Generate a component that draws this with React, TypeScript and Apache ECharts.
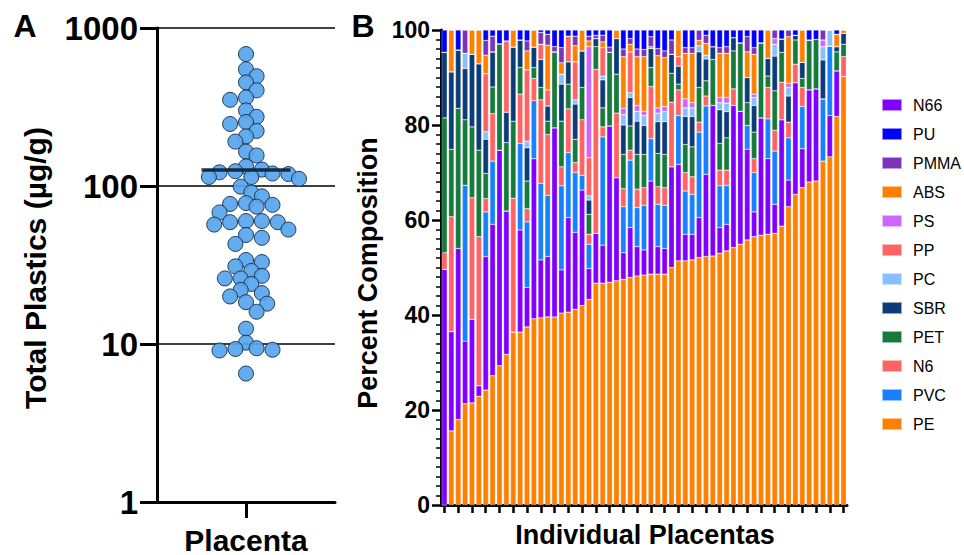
import React, { useEffect, useRef } from "react";
import * as echarts from "echarts";

// ---------- Panel A data ----------
const TOTAL_PLASTICS = [
  684, 548, 495, 453, 403, 363, 351, 301, 274, 254, 247, 223, 206, 191, 165, 156,
  133, 127, 124, 122, 120, 119, 114, 114, 111, 99, 91, 86, 78, 77, 76, 74, 68,
  60, 60, 59, 59, 57, 53, 49, 47, 43, 34, 33, 31, 29, 27, 26, 26, 24, 22, 21, 20,
  18.4, 18, 16, 12.5, 10.2, 9.4, 9.3, 9.2, 9.1, 6.5,
];
const GROUP_LABEL = "Placenta";

// ---------- Panel B data ----------
const STACK_ORDER = ["PE", "N66", "PVC", "N6", "PET", "SBR", "PC", "PP", "PS", "ABS", "PMMA", "PU"];
const LEGEND_ORDER = ["N66", "PU", "PMMA", "ABS", "PS", "PP", "PC", "SBR", "PET", "N6", "PVC", "PE"];
const COLORS: Record<string, string> = {
  N66: "#8000ff",
  PU: "#0000ff",
  PMMA: "#7b33b8",
  ABS: "#ff8000",
  PS: "#cc66ff",
  PP: "#ff6262",
  PC: "#88bfff",
  SBR: "#0b3c78",
  PET: "#167a3c",
  N6: "#ff6262",
  PVC: "#1780ff",
  PE: "#ff8000",
};

const PE = [0, 15.6, 18.0, 21.3, 21.5, 22.9, 24.2, 27.2, 29.3, 31.7, 36.4, 36.4, 37.5, 39.2, 39.4, 39.6, 39.6, 40.4, 40.6, 41.2, 42.0, 43.3, 46.7, 46.7, 46.9, 47.2, 47.5, 47.9, 48.2, 48.4, 48.6, 48.6, 48.6, 50.0, 51.4, 51.4, 51.6, 52.1, 52.3, 52.4, 53.0, 53.5, 54.2, 54.9, 55.8, 56.5, 56.8, 57.0, 57.2, 58.7, 62.8, 65.4, 66.8, 68.0, 68.2, 72.4, 73.3, 81.8, 90.2];
const N66 = [49.6, 20.9, 36.0, 13.2, 17.6, 2.2, 28.1, 31.9, 45.4, 30.2, 0, 21.5, 8.3, 33.7, 12.2, 12.7, 39.8, 9.1, 19.9, 16.2, 24.3, 6.5, 10.5, 8.0, 32.9, 21.7, 5.6, 10.5, 6.2, 5.3, 19.6, 5.8, 5.4, 21.2, 20.3, 5.6, 5.4, 8.4, 17.3, 31.7, 5.4, 5.6, 29.9, 28.0, 19.1, 5.2, 24.7, 15.9, 6.1, 22.4, 5.6, 23.5, 8.2, 19.4, 19.4, 0, 8.7, 9.6, 0];
const PVC = [0, 0, 0, 32.8, 0, 0, 9.4, 13.3, 0, 0, 0, 18.2, 13.8, 12.2, 16.1, 12.9, 0, 17.7, 13.7, 12.6, 3.1, 5.1, 0, 22.8, 0, 0, 9.7, 14.2, 8.2, 9.4, 8.9, 8.9, 9.1, 0, 10.3, 9.1, 8.4, 18.0, 14.4, 0, 8.8, 8.2, 0, 0, 5.0, 8.3, 0, 8.4, 11.2, 0, 8.9, 0, 8.9, 0, 0, 13.1, 14.6, 0, 0];
const N6 = [3.5, 24.2, 0, 0, 25.6, 31.4, 2.8, 10.0, 0, 0, 28.2, 10.4, 2.8, 4.7, 17.6, 12.8, 0, 4.0, 9.2, 2.1, 11.7, 2.1, 34.5, 2.1, 0, 13.6, 3.8, 2.1, 3.9, 3.7, 11.0, 3.7, 3.7, 13.6, 5.4, 3.9, 3.7, 2.1, 2.1, 0, 3.3, 3.2, 3.5, 0, 0, 2.9, 0, 6.6, 4.4, 7.9, 3.3, 3.9, 4.0, 0, 0, 0, 0, 0, 4.2];
const PET = [28.4, 14.2, 29.5, 13.8, 14.9, 18.2, 5.3, 5.6, 22.4, 14.4, 16.2, 5.6, 5.8, 2.3, 2.6, 2.8, 16.0, 9.6, 5.2, 4.9, 6.8, 4.2, 4.8, 4.0, 15.5, 8.2, 7.2, 5.1, 7.3, 7.0, 4.0, 7.0, 7.0, 6.1, 1.2, 5.9, 6.3, 7.3, 3.2, 9.7, 5.6, 6.8, 8.0, 14.4, 4.8, 5.6, 15.8, 2.4, 8.3, 6.3, 0, 5.1, 1.9, 10.5, 10.4, 0, 0, 4.0, 2.6];
const SBR = [13.8, 16.3, 12.3, 10.8, 15.3, 18.2, 7.2, 7.4, 0, 6.4, 15.6, 5.8, 7.0, 4.3, 5.9, 3.2, 0, 7.8, 4.7, 7.4, 7.7, 3.0, 1.7, 5.9, 0, 7.5, 6.2, 6.0, 7.0, 6.1, 4.0, 6.7, 6.9, 4.0, 3.8, 5.9, 6.4, 7.5, 4.6, 2.7, 7.1, 5.5, 2.8, 0, 5.3, 5.6, 0, 3.7, 7.3, 2.8, 5.5, 1.0, 3.4, 0, 0, 8.2, 0, 1.1, 2.3];
const PC = [0, 0, 0, 3.2, 0, 0, 1.6, 0, 0, 0, 0, 0, 1.4, 0, 0, 0, 0, 2.1, 0, 0.9, 0, 0.9, 0, 0.8, 0, 0, 2.2, 1.0, 2.1, 2.1, 0, 1.8, 2.1, 0, 0, 1.8, 1.8, 1.3, 0.8, 0, 1.5, 1.8, 0, 0, 0, 1.7, 0, 0, 2.5, 0, 1.8, 0, 0, 0, 0, 2.8, 3.4, 0, 0];
const PP = [0, 0, 0, 0, 0, 0, 12.2, 0, 0, 15.0, 0, 0, 15.0, 0, 3.2, 3.4, 0, 0, 5.4, 8.0, 0, 8.0, 0, 6.0, 0, 0, 0, 8.6, 0, 0, 0, 0, 0, 0, 2.0, 0, 0, 0, 0, 0, 0, 0, 0, 0, 0, 0, 0, 0, 0, 0, 0, 0, 0, 0, 0, 0, 0, 0, 0];
const PS = [0, 0, 0, 0, 0, 0, 0, 0, 0, 0, 0, 0, 0, 0, 0, 0, 0, 0, 0, 0, 0, 23.4, 0, 0, 0, 0, 1.3, 0, 1.2, 0.9, 0, 1.1, 1.1, 0, 0, 1.9, 1.1, 0, 0, 0, 1.1, 1.2, 0, 0, 0, 0.7, 0, 0, 1.2, 0, 0.9, 0, 0, 0, 0, 1.4, 0, 0, 0];
const ABS = [0, 8.8, 0, 0, 5.1, 7.1, 3.9, 0, 0, 0, 3.6, 0, 4.0, 3.6, 0, 9.4, 0, 2.4, 0, 3.4, 4.4, 1.2, 0, 1.2, 0, 1.8, 10.9, 1.6, 10.3, 11.5, 0.4, 11.0, 10.3, 0, 5.6, 9.6, 10.4, 1.1, 2.5, 0, 9.3, 9.3, 0, 0, 5.4, 8.4, 0, 6.0, 0, 0, 9.8, 0, 6.8, 0, 0, 0, 0, 2.6, 0.7];
const PMMA = [0, 0, 0, 4.9, 0, 0, 3.1, 3.3, 0, 0, 0, 0, 2.1, 0, 2.5, 2.3, 1.1, 3.2, 0, 2.0, 0, 1.0, 0.7, 1.4, 1.1, 0, 1.6, 1.2, 1.6, 1.5, 2.1, 1.5, 1.4, 3.0, 0, 1.2, 1.2, 2.2, 1.7, 0, 1.2, 1.4, 0, 0, 3.2, 1.4, 0, 0, 1.8, 0, 1.4, 0, 0, 0, 0, 2.1, 0, 0, 0];
const PU = [4.7, 0, 4.2, 0, 0, 0, 2.2, 1.3, 2.9, 2.3, 0, 2.1, 2.3, 0, 0.5, 0.9, 3.5, 3.7, 1.3, 1.3, 0, 1.3, 1.1, 1.1, 3.6, 0, 4.0, 1.8, 4.0, 4.1, 1.4, 3.9, 4.4, 2.1, 0, 3.7, 3.7, 0, 1.1, 3.5, 3.7, 3.5, 1.6, 2.7, 1.4, 3.7, 2.7, 0, 0, 1.9, 0, 1.1, 0, 2.1, 2.0, 0, 0, 0.9, 0];

const SERIES_VALUES: Record<string, number[]> = { PE, N66, PVC, N6, PET, SBR, PC, PP, PS, ABS, PMMA, PU };
const SAMPLES = PE.map((_, i) => String(i + 1));

const FONT = "'Liberation Sans', Arial, Helvetica, sans-serif";

// layout of panel A grid (used for beeswarm spacing)
const A_LEFT = 157, A_TOP = 28, A_W = 178, A_H = 476;
const B_LEFT = 441, B_TOP = 30, B_W = 406, B_H = 475;

function beeswarm(values: number[]): number[][] {
  const pxPerDecade = A_H / 3;
  const pxPerUnit = A_W / 2;
  const step = 5.3;
  const minDist = 11.2;
  const order = values.map((v, i) => i).sort((a, b) => values[b] - values[a]);
  const placed: { x: number; y: number }[] = [];
  const out: number[][] = new Array(values.length);
  for (const i of order) {
    const y = Math.log10(values[i]) * pxPerDecade;
    let chosen = 0;
    for (let k = 0; k < 40; k++) {
      const cands = k === 0 ? [0] : [k * step, -k * step];
      let ok = false;
      for (const x of cands) {
        if (placed.every((p) => Math.hypot(p.x - x, p.y - y) >= minDist)) {
          chosen = x;
          ok = true;
          break;
        }
      }
      if (ok) break;
    }
    placed.push({ x: chosen, y });
    out[i] = [chosen / pxPerUnit, values[i]];
  }
  return out;
}

export default function App() {
  const ref = useRef<HTMLDivElement>(null);
  useEffect(() => {
    if (!ref.current) return;
    const chart = echarts.init(ref.current, undefined, { renderer: "svg" });
    const mean = TOTAL_PLASTICS.reduce((s, v) => s + v, 0) / TOTAL_PLASTICS.length;
    const black = "#000";

    const barSeries = STACK_ORDER.map((name) => ({
      name,
      type: "bar",
      stack: "total",
      xAxisIndex: 1,
      yAxisIndex: 1,
      barCategoryGap: "20%",
      data: SERIES_VALUES[name],
      itemStyle: { color: COLORS[name], borderColor: "rgba(255,255,255,0.55)", borderWidth: 0.5 },
      emphasis: { disabled: true },
    }));

    const option: any = {
      animation: false,
      textStyle: { fontFamily: FONT },
      legend: {
        data: LEGEND_ORDER,
        orient: "vertical",
        left: 881,
        top: 97,
        padding: 0,
        itemWidth: 20,
        itemHeight: 12,
        itemGap: 13,
        icon: "rect",
        selectedMode: false,
        textStyle: { fontFamily: FONT, fontSize: 16, color: black, padding: [0, 0, 0, 6] },
      },
      grid: [
        { left: A_LEFT, top: A_TOP, width: A_W, height: A_H },
        { left: B_LEFT, top: B_TOP, width: B_W, height: B_H },
      ],
      xAxis: [
        {
          gridIndex: 0,
          type: "value",
          min: -1,
          max: 1,
          axisLine: { show: true, onZero: false, lineStyle: { color: black, width: 3 } },
          axisTick: { show: true, customValues: [0], length: 16, lineStyle: { color: black, width: 3 } },
          axisLabel: {
            show: true,
            customValues: [0],
            formatter: () => GROUP_LABEL,
            fontFamily: FONT,
            fontSize: 30,
            fontWeight: "bold",
            color: black,
            margin: 23,
          },
          splitLine: { show: false },
        },
        {
          gridIndex: 1,
          type: "category",
          data: SAMPLES,
          axisLine: { show: true, lineStyle: { color: black, width: 3 } },
          axisTick: { show: true, alignWithLabel: true, interval: 1, length: 8, lineStyle: { color: black, width: 2.5 } },
          axisLabel: { show: false },
          splitLine: { show: false },
        },
      ],
      yAxis: [
        {
          gridIndex: 0,
          type: "log",
          logBase: 10,
          min: 1,
          max: 1000,
          axisLine: { show: true, onZero: false, lineStyle: { color: black, width: 3 } },
          axisTick: { show: true, length: 17, lineStyle: { color: black, width: 3 } },
          axisLabel: {
            fontFamily: FONT,
            fontSize: 33,
            fontWeight: "bold",
            color: black,
            margin: 19,
            formatter: (v: number) => String(Math.round(v)),
          },
          splitLine: { show: true, lineStyle: { color: black, width: 1.5 } },
        },
        {
          gridIndex: 1,
          type: "value",
          min: 0,
          max: 100,
          interval: 20,
          axisLine: { show: true, onZero: false, lineStyle: { color: black, width: 3 } },
          axisTick: { show: true, length: 9, lineStyle: { color: black, width: 2.5 } },
          minorTick: { show: true, splitNumber: 10, length: 5, lineStyle: { color: black, width: 1.5 } },
          axisLabel: { fontFamily: FONT, fontSize: 23, fontWeight: "bold", color: black, margin: 11 },
          splitLine: { show: false },
        },
      ],
      series: [
        {
          type: "scatter",
          xAxisIndex: 0,
          yAxisIndex: 0,
          data: beeswarm(TOTAL_PLASTICS),
          symbolSize: 15,
          itemStyle: { color: "#57a5ec", borderColor: "#16304d", borderWidth: 1, opacity: 0.92 },
          z: 2,
          emphasis: { disabled: true },
        },
        {
          type: "line",
          xAxisIndex: 0,
          yAxisIndex: 0,
          data: [[-0.5, mean], [0.5, mean]],
          symbol: "none",
          lineStyle: { color: "#0a2038", width: 3.5, opacity: 0.9 },
          z: 3,
        },
        ...barSeries,
      ],
      graphic: [
        { type: "text", x: 25, y: 26, style: { text: "A", font: `bold 32px ${FONT}`, fill: black, textAlign: "center", textVerticalAlign: "middle" } },
        { type: "text", x: 363, y: 26, style: { text: "B", font: `bold 32px ${FONT}`, fill: black, textAlign: "center", textVerticalAlign: "middle" } },
        {
          type: "text",
          x: 35,
          y: 268,
          rotation: Math.PI / 2,
          style: { text: "Total Plastics (µg/g)", font: `bold 30px ${FONT}`, fill: black, textAlign: "center", textVerticalAlign: "middle" },
        },
        {
          type: "text",
          x: 368,
          y: 273,
          rotation: Math.PI / 2,
          style: { text: "Percent Composition", font: `bold 27px ${FONT}`, fill: black, textAlign: "center", textVerticalAlign: "middle" },
        },
        {
          type: "text",
          x: 645,
          y: 535,
          style: { text: "Individual Placentas", font: `bold 27px ${FONT}`, fill: black, textAlign: "center", textVerticalAlign: "middle" },
        },
      ],
    };
    chart.setOption(option);
    return () => chart.dispose();
  }, []);
  return <div ref={ref} style={{ position: "absolute", left: 0, top: 0, width: 964, height: 555, background: "#fff" }} />;
}
